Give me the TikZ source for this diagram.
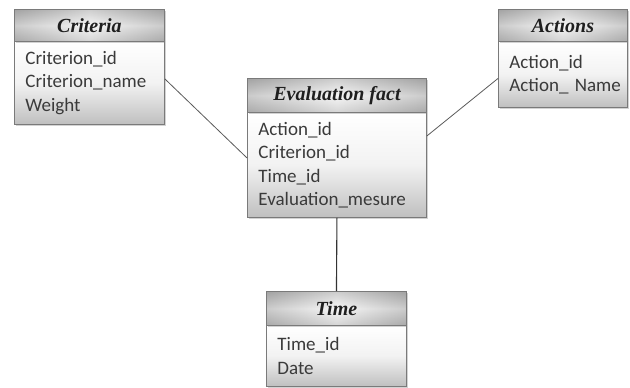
\documentclass[tikz,border=0pt]{standalone}
\usepackage{fontspec}
\usetikzlibrary{shadows}
\newfontfamily\bodyfont{Carlito}
\newfontfamily\headfont{Liberation Serif}
\definecolor{boxline}{HTML}{7A7A7A}
\definecolor{bodytext}{HTML}{3A3A3A}
\definecolor{linkline}{HTML}{5A5A5A}
\tikzset{
  entityhead/.style={draw=boxline, line width=0.9pt, anchor=north west,
    shade, top color=gray!70, bottom color=gray!60, middle color=gray!12,
    path picture={\shade[opacity=0.45, left color=gray!75, right color=gray!75, middle color=white]
      (path picture bounding box.south west) rectangle (path picture bounding box.north east);},
    font=\headfont\bfseries\itshape\fontsize{20}{22}\selectfont, text=black!88,
    inner sep=0pt, drop shadow={shadow xshift=2pt, shadow yshift=-2pt, opacity=0.35}},
  entitybody/.style={draw=boxline, line width=0.9pt, anchor=north west,
    shade, top color=white, bottom color=gray!50, middle color=gray!10,
    font=\bodyfont\fontsize{19}{23.5}\selectfont, text=bodytext,
    align=left, inner xsep=11pt, inner ysep=0pt,
    drop shadow={shadow xshift=2pt, shadow yshift=-2pt, opacity=0.35}},
  link/.style={draw=linkline, line width=0.8pt}
}
\begin{document}
\begin{tikzpicture}[x=1pt, y=-1pt]
\useasboundingbox (0,0) rectangle (630,388);
% Criteria table
\node[entitybody, minimum width=150pt, minimum height=83pt, text width=128pt] (critb) at (14,41)
  {Criterion\_id\\Criterion\_name\\Weight};
\node[entityhead, minimum width=150pt, minimum height=32pt] (crith) at (14,9) {Criteria};
% Evaluation fact table
\node[entitybody, minimum width=179pt, minimum height=105pt, text width=157pt] (evalb) at (247,112)
  {Action\_id\\Criterion\_id\\Time\_id\\Evaluation\_mesure};
\node[entityhead, minimum width=179pt, minimum height=34pt] (evalh) at (247,78) {Evaluation fact};
% Actions table
\node[entitybody, minimum width=129pt, minimum height=66pt, text width=107pt] (actb) at (498,41)
  {Action\_id\\Action\_~Name};
\node[entityhead, minimum width=129pt, minimum height=32pt] (acth) at (498,9) {Actions};
% Time table
\node[entitybody, minimum width=140pt, minimum height=61pt, text width=118pt] (timeb) at (266,325)
  {Time\_id\\Date};
\node[entityhead, minimum width=140pt, minimum height=34pt] (timeh) at (266,291) {Time};
% connectors
\draw[link] ([yshift=4pt]critb.east) -- ([yshift=7pt]evalb.west);
\draw[link] ([yshift=29pt]evalb.east) -- ([yshift=-4pt]actb.west);
\draw[link, draw=black!80, line width=1.1pt] (evalb.south) -- (timeh.north);
\end{tikzpicture}
\end{document}
